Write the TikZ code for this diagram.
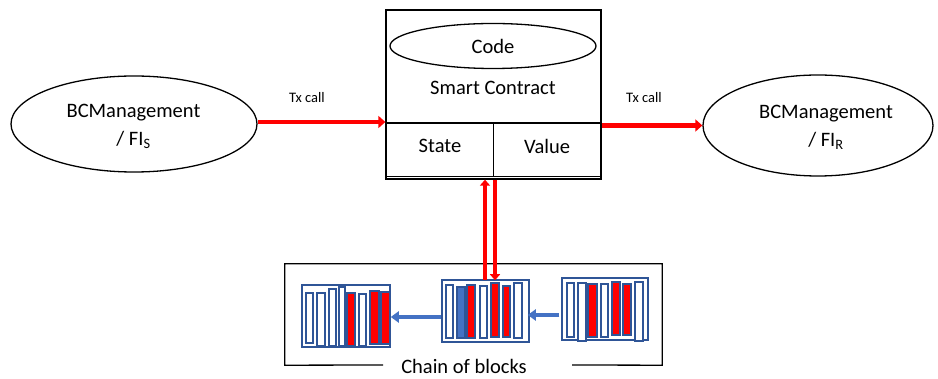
\documentclass[tikz,border=0pt]{standalone}
\usepackage{fontspec}
\setmainfont{Carlito}
\usetikzlibrary{shapes.geometric,arrows.meta,calc}
\definecolor{barblue}{RGB}{47,85,151}
\definecolor{fillblue}{RGB}{68,114,196}
\definecolor{arrowred}{RGB}{255,0,0}
\tikzset{
  txt/.style={font=\fontsize{20.5}{28}\selectfont, inner sep=0pt, align=center},
  small/.style={font=\fontsize{14.5}{17}\selectfont, inner sep=0pt},
  outline/.style={draw=black, line width=1.3pt},
  party/.style={outline, ellipse, inner sep=0pt},
  redarrow/.style={draw=arrowred, line width=4.5pt, -{Triangle[length=7pt,width=12pt]}},
  bluearrow/.style={draw=fillblue, line width=4pt, -{Triangle[length=8pt,width=11pt]}},
  blockbox/.style={draw=barblue, line width=1.5pt, rectangle, inner sep=0pt},
  bar/.style={draw=barblue, line width=1.8pt, fill=white},
  redbar/.style={bar, fill=red},
  bluebar/.style={bar, fill=fillblue}
}
\begin{document}
\begin{tikzpicture}[x=1pt,y=-1pt]
\useasboundingbox[fill=white] (0,0) rectangle (938,379);

% parties
\node[party, minimum width=246pt, minimum height=96pt] (fis) at (134,124) {};
\node[txt] (fistext) at (133.5,126) {BCManagement\\/ FI\textsubscript{S}};
\node[party, minimum width=230pt, minimum height=101pt] (fir) at (818,125.5) {};
\node[txt] (firtext) at (826,127.5) {BCManagement\\/ FI\textsubscript{R}};

% smart contract box
\node[outline, rectangle, minimum width=215pt, minimum height=169pt, inner sep=0pt] (sc) at (493.5,94.5) {};
\draw[outline] ([yshift=-28.5pt]sc.west) -- ([yshift=-28.5pt]sc.east);
\draw[outline] ([yshift=3pt]sc.south west) -- ([yshift=3pt]sc.south east);
\draw[outline] ([yshift=-28.5pt]sc.center) -- ([yshift=3pt]sc.south);
\node[party, minimum width=206pt, minimum height=45pt, font=\fontsize{20.5}{24}\selectfont] (code) at (493,46) {Code};
\node[txt] (sclabel) at (493,88) {Smart Contract};
\node[txt] (state) at (440,146) {State};
\node[txt] (value) at (547,146) {Value};

% transaction calls
\draw[redarrow] ([yshift=2pt]fis.east) -- ([yshift=2pt]fis.east -| sc.west);
\node[small] (txl) at (307,98) {Tx call};
\draw[redarrow] (fir.west -| sc.east) -- (fir.west);
\node[small] (txr) at (644,98) {Tx call};

% chain of blocks frame
\node[minimum width=377pt, minimum height=101pt, inner sep=0pt] (chainbox) at (473.5,314.5) {};
\coordinate (gapL) at (383,365);
\coordinate (gapR) at (572,365);
\draw[outline] (gapL) -- (chainbox.south west) -- (chainbox.north west) -- (chainbox.north east) -- (chainbox.south east) -- (gapR);
\node[txt] (chainlabel) at (464,366.5) {Chain of blocks};

% blocks
\node[blockbox, minimum width=88pt, minimum height=62pt] (b1) at (346,316) {};
\node[blockbox, minimum width=87pt, minimum height=62pt] (b2) at (485.5,311) {};
\node[blockbox, minimum width=86pt, minimum height=62pt] (b3) at (605,309) {};

% entries of the first block
\draw[bar]    (306.3,292.7) rectangle (313,343.3);
\draw[bar]    (317.3,292.7) rectangle (324.7,345.7);
\draw[bar]    (329,289) rectangle (335.7,345.7);
\draw[bar]    (338.7,286.7) rectangle (344.7,345.7);
\draw[redbar] (347,292.7) rectangle (354.7,345.7);
\draw[bar]    (358.7,294) rectangle (366.3,345.7);
\draw[redbar] (369.7,290.7) rectangle (379,344.3);
\draw[redbar] (381.3,292.3) rectangle (389.7,344.3);

% entries of the second block
\draw[bar]     (446,285) rectangle (453.3,338.3);
\draw[bluebar] (456.7,286.7) rectangle (465,338.3);
\draw[redbar]  (467.3,285) rectangle (475,338.3);
\draw[bar]     (480,285.7) rectangle (487.3,338.3);
\draw[redbar]  (491,283.3) rectangle (499,336.7);
\draw[redbar]  (502.7,286) rectangle (510,336.7);
\draw[bar]     (514,283.3) rectangle (521.7,338.3);

% entries of the third block
\draw[bar]    (566.7,283.3) rectangle (574,336.7);
\draw[bar]    (578.3,283.3) rectangle (585.7,340.7);
\draw[redbar] (588.3,284) rectangle (596.7,336.7);
\draw[bar]    (600.7,284.3) rectangle (608.3,336.7);
\draw[redbar] (612.3,281.7) rectangle (620,335);
\draw[redbar] (623.3,284) rectangle (631,335);
\draw[bar]    (635,282.3) rectangle (642.7,340.7);

% links between blocks
\draw[bluearrow] ([yshift=-6pt]b2.west) -- ([yshift=-6pt]b2.west -| b1.east);
\draw[bluearrow] ([xshift=-2pt,yshift=-6pt]b3.west) -- ([xshift=-2pt,yshift=-6pt]b3.west -| b2.east);

% state reads and writes
\draw[redarrow, line width=4pt, -{Triangle[length=6pt,width=10pt]}] ([xshift=-0.5pt,yshift=-1pt]b2.north) -- ([xshift=-0.5pt]b2.north |- sc.south);
\draw[redarrow, line width=4pt, -{Triangle[length=6pt,width=10pt]}] ([xshift=9.5pt]b2.north |- sc.south) -- ([xshift=9.5pt,yshift=-1pt]b2.north);
\end{tikzpicture}
\end{document}
